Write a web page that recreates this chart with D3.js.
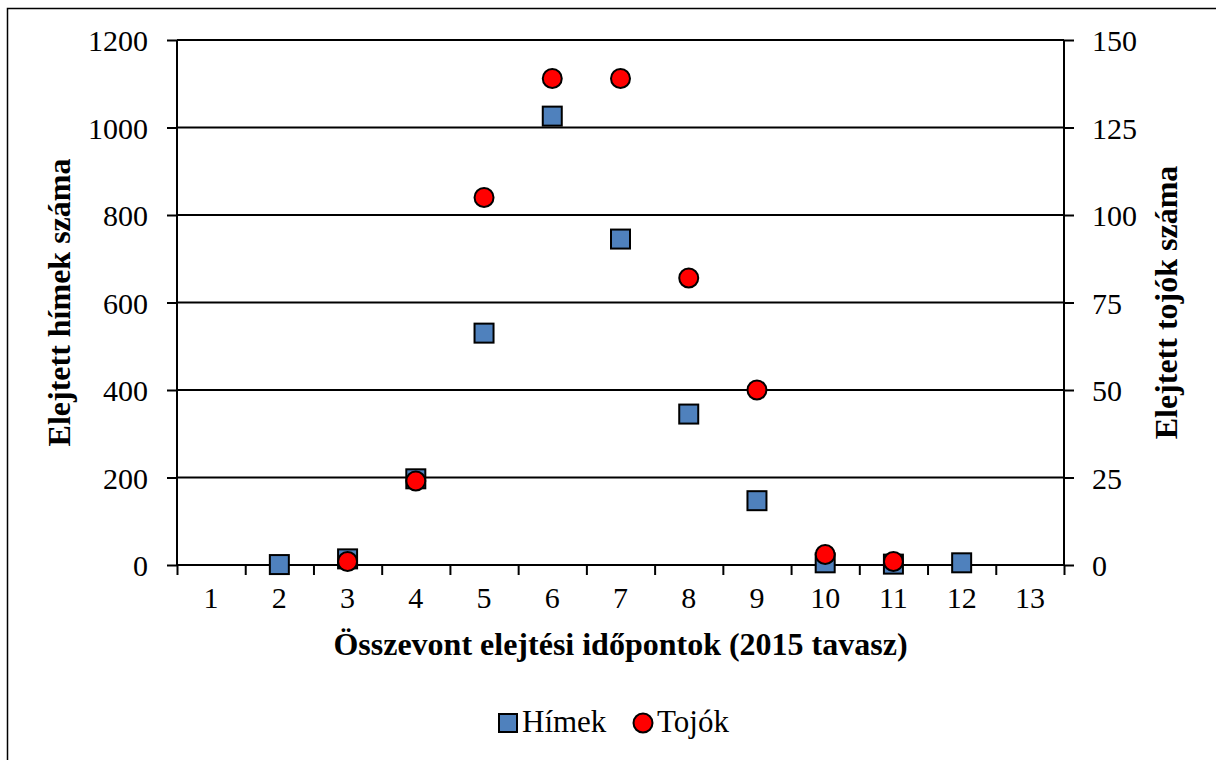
<!DOCTYPE html>
<html><head><meta charset="utf-8">
<script src="https://cdn.jsdelivr.net/npm/d3@7"></script>
<style>
html,body{margin:0;padding:0;background:#fff;}
text{font-family:"Liberation Serif","Times New Roman",serif;fill:#000;}
</style></head>
<body>
<svg id="chart" width="1216" height="760"></svg>
<script>
const categories = ["1","2","3","4","5","6","7","8","9","10","11","12","13"];
const himek = [null, 1, 14, 197, 530, 1026, 745, 345, 147, 5, 2, 5, null];
const tojok = [null, null, 1, 24, 105, 139, 139, 82, 50, 3, 1, null, null];
const leftTicks = [0, 200, 400, 600, 800, 1000, 1200];
const rightTicks = [0, 25, 50, 75, 100, 125, 150];
const seriesNames = ["Hímek", "Tojók"];
const colors = {himek: "#4f81bd", tojok: "#ff0000"};

const svg = d3.select("#chart");
const L = 177, R = 1064, T = 40, B = 565;
const FF = "Liberation Serif";

svg.append("rect").attr("x",7.5).attr("y",8.5).attr("width",1220).attr("height",770)
  .attr("fill","none").attr("stroke","#000").attr("stroke-width",1.5);

const x = d3.scaleBand().domain(categories).range([L, R]).padding(0);
const xb = d3.scaleLinear().domain([0, categories.length]).range([L, R]);
const yL = d3.scaleLinear().domain([0, 1200]).range([B, T]);
const yR = d3.scaleLinear().domain([0, 150]).range([B, T]);

// gridlines
svg.append("g").selectAll("line").data(leftTicks.filter(d=>d>0)).join("line")
  .attr("x1", L).attr("x2", R).attr("y1", d=>yL(d)).attr("y2", d=>yL(d))
  .attr("stroke","#000").attr("stroke-width",2);

// left axis
const gL = svg.append("g").attr("transform",`translate(${L},0)`)
  .call(d3.axisLeft(yL).tickValues(leftTicks).tickFormat(d3.format("d")).tickSize(10).tickPadding(19));
gL.selectAll("path,line").attr("stroke","#000").attr("stroke-width",2);
gL.select(".domain").attr("d",`M0,${B}V${T}`);
gL.selectAll("text").style("font-size","30px").style("font-family",FF).attr("dy","0.35em");

// right axis
const gR = svg.append("g").attr("transform",`translate(${R},0)`)
  .call(d3.axisRight(yR).tickValues(rightTicks).tickFormat(d3.format("d")).tickSize(10).tickPadding(18));
gR.selectAll("path,line").attr("stroke","#000").attr("stroke-width",2);
gR.select(".domain").attr("d",`M0,${B}V${T}`);
gR.selectAll("text").style("font-size","30px").style("font-family",FF).attr("dy","0.35em");

// bottom axis: boundary ticks
const gB = svg.append("g").attr("transform",`translate(0,${B})`)
  .call(d3.axisBottom(xb).tickValues(d3.range(0, categories.length+1)).tickSize(10).tickFormat(""));
gB.selectAll("path,line").attr("stroke","#000").attr("stroke-width",2);
gB.select(".domain").attr("d",`M${L},0H${R}`);
// category labels
const gB2 = svg.append("g").attr("transform",`translate(0,${B})`)
  .call(d3.axisBottom(x).tickSize(0).tickPadding(22));
gB2.select(".domain").remove();
gB2.selectAll("text").style("font-size","30px").style("font-family",FF);

// axis titles
svg.append("text").attr("transform",`translate(70,${(T+B)/2}) rotate(-90)`)
  .attr("text-anchor","middle").style("font-size","32px").style("font-weight","bold")
  .text("Elejtett hímek száma");
svg.append("text").attr("transform",`translate(1177,${(T+B)/2}) rotate(-90)`)
  .attr("text-anchor","middle").style("font-size","32px").style("font-weight","bold")
  .text("Elejtett tojók száma");
svg.append("text").attr("x",(L+R)/2).attr("y",655)
  .attr("text-anchor","middle").style("font-size","32px").style("font-weight","bold")
  .text("Összevont elejtési időpontok (2015 tavasz)");

// series
const hData = categories.map((c,i)=>({c, v: himek[i]})).filter(d=>d.v!==null);
const tData = categories.map((c,i)=>({c, v: tojok[i]})).filter(d=>d.v!==null);
const half = x.bandwidth()/2;
svg.append("g").selectAll("rect").data(hData).join("rect")
  .attr("x", d=>x(d.c)+half-9.5).attr("y", d=>yL(d.v)-9.5)
  .attr("width",19).attr("height",19)
  .attr("fill",colors.himek).attr("stroke","#000").attr("stroke-width",2);
svg.append("g").selectAll("circle").data(tData).join("circle")
  .attr("cx", d=>x(d.c)+half).attr("cy", d=>yR(d.v)).attr("r",9.5)
  .attr("fill",colors.tojok).attr("stroke","#000").attr("stroke-width",2);

// legend
const lg = svg.append("g");
lg.append("rect").attr("x",499).attr("y",714).attr("width",18).attr("height",18)
  .attr("fill",colors.himek).attr("stroke","#000").attr("stroke-width",2);
lg.append("text").attr("x",522).attr("y",732).style("font-size","31px").text(seriesNames[0]);
lg.append("circle").attr("cx",643).attr("cy",723).attr("r",9.5)
  .attr("fill",colors.tojok).attr("stroke","#000").attr("stroke-width",2);
lg.append("text").attr("x",657).attr("y",732).style("font-size","31px").text(seriesNames[1]);
</script>
</body></html>
